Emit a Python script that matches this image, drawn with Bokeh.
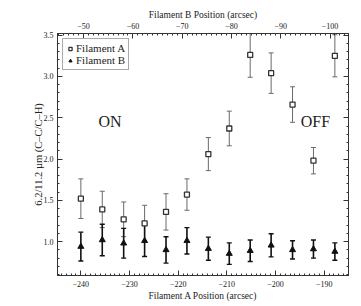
from bokeh.plotting import figure
from bokeh.models import (ColumnDataSource, Range1d, LinearAxis, SingleIntervalTicker,
                          Whisker, TeeHead, Label, Legend, LegendItem, CustomJSTickFormatter,
                          PrintfTickFormatter)
from bokeh.embed import file_html
from bokeh.resources import INLINE

# Filament A position (arcsec) for each slit position
pos_a = [-240.0, -235.6, -231.2, -226.9, -222.5, -218.2, -213.8, -209.5, -205.2, -200.9, -196.5, -192.2, -187.8]
# 6.2/11.2 ratio, Filament A (squares) and its uncertainty
ratio_a = [1.52, 1.39, 1.27, 1.22, 1.36, 1.57, 2.06, 2.37, 3.26, 3.04, 2.66, 1.98, 3.25]
err_a = [0.24, 0.22, 0.21, 0.22, 0.22, 0.19, 0.20, 0.21, 0.27, 0.245, 0.215, 0.16, 0.255]
# 6.2/11.2 ratio, Filament B (triangles) and its uncertainty
ratio_b = [0.94, 1.02, 0.98, 1.01, 0.90, 1.01, 0.915, 0.855, 0.89, 0.955, 0.90, 0.91, 0.88]
err_b = [0.175, 0.19, 0.18, 0.19, 0.16, 0.16, 0.14, 0.13, 0.13, 0.14, 0.11, 0.11, 0.105]

FONT = "Liberation Serif"
INK = "#222222"

src = ColumnDataSource(dict(
    x=pos_a, ya=ratio_a,
    ya_lo=[v - e for v, e in zip(ratio_a, err_a)],
    ya_hi=[v + e for v, e in zip(ratio_a, err_a)],
    yb=ratio_b,
    yb_lo=[v - e for v, e in zip(ratio_b, err_b)],
    yb_hi=[v + e for v, e in zip(ratio_b, err_b)],
))

p = figure(width=361, height=306, output_backend="svg", toolbar_location=None,
           x_range=Range1d(-244.8, -185.0), y_range=Range1d(0.59, 3.52),
           min_border_left=57, min_border_right=13, min_border_top=33, min_border_bottom=31)
p.background_fill_color = "white"
p.border_fill_color = "white"
p.outline_line_color = "#333333"
p.outline_line_width = 1
p.xgrid.visible = False
p.ygrid.visible = False

minus_fmt = CustomJSTickFormatter(code="return tick.toFixed(0).replace('-', '\u2212');")


def style_axis(ax, label_size="8px"):
    ax.major_tick_in = 5
    ax.major_tick_out = 0
    ax.minor_tick_in = 2
    ax.minor_tick_out = 0
    ax.axis_line_color = "#333333"
    ax.major_tick_line_color = "#333333"
    ax.minor_tick_line_color = "#333333"
    ax.major_label_text_font = FONT
    ax.major_label_text_font_size = label_size
    ax.major_label_text_color = INK
    ax.axis_label_text_font = FONT
    ax.axis_label_text_font_style = "normal"
    ax.axis_label_text_color = INK


# bottom axis: Filament A position
xa = p.xaxis[0]
xa.ticker = SingleIntervalTicker(interval=10, num_minor_ticks=10)
xa.formatter = minus_fmt
xa.axis_label = "Filament A Position (arcsec)"
xa.axis_label_text_font_size = "9.5px"
xa.major_label_standoff = 5
xa.axis_label_standoff = 1
style_axis(xa)

# left axis: ratio
ya = p.yaxis[0]
ya.ticker = SingleIntervalTicker(interval=0.5, num_minor_ticks=5)
ya.formatter = PrintfTickFormatter(format="%.1f")
ya.axis_label = "6.2/11.2 \u00b5m (C\u2013C/C\u2013H)"
ya.axis_label_text_font_size = "10.5px"
ya.major_label_standoff = 4
ya.axis_label_standoff = -3
style_axis(ya)

# top axis: Filament B position (reversed)
p.extra_x_ranges = {"B": Range1d(-44.7, -103.75)}
top = LinearAxis(x_range_name="B",
                 ticker=SingleIntervalTicker(interval=10, num_minor_ticks=10),
                 formatter=minus_fmt,
                 axis_label="Filament B Position (arcsec)")
top.axis_label_text_font_size = "9.5px"
top.major_label_standoff = 5
top.axis_label_standoff = 0
style_axis(top)
p.add_layout(top, "above")

# right axis: ticks only
right = LinearAxis(ticker=SingleIntervalTicker(interval=0.5, num_minor_ticks=5),
                   formatter=CustomJSTickFormatter(code="return '';"))
style_axis(right)
right.major_label_standoff = 0
p.add_layout(right, "right")

# error bars
wa = Whisker(source=src, base="x", upper="ya_hi", lower="ya_lo",
             line_color="#6a6a6a", line_width=1,
             upper_head=TeeHead(size=5, line_color="#6a6a6a", line_width=1),
             lower_head=TeeHead(size=5, line_color="#6a6a6a", line_width=1))
wb = Whisker(source=src, base="x", upper="yb_hi", lower="yb_lo",
             line_color="#111111", line_width=1.6,
             upper_head=TeeHead(size=5, line_color="#111111", line_width=1.4),
             lower_head=TeeHead(size=5, line_color="#111111", line_width=1.4))
p.add_layout(wa)
p.add_layout(wb)

ra = p.scatter("x", "ya", source=src, marker="square", size=5,
               fill_color="white", line_color="#333333", line_width=1.3)
rb = p.scatter("x", "yb", source=src, marker="triangle", size=6,
               fill_color="#111111", line_color="#111111", line_width=1)

p.add_layout(Label(x=-234.0, y=2.455, text="ON", text_font=FONT, text_font_size="16px",
                   text_color=INK, text_align="center", text_baseline="middle"))
p.add_layout(Label(x=-191.8, y=2.455, text="OFF", text_font=FONT, text_font_size="16px",
                   text_color=INK, text_align="center", text_baseline="middle"))

legend = Legend(items=[LegendItem(label="Filament A", renderers=[ra]),
                       LegendItem(label="Filament B", renderers=[rb])],
                location="top_left")
legend.label_text_font = FONT
legend.label_text_font_size = "11px"
legend.label_text_color = INK
legend.label_height = 9
legend.label_standoff = 2
legend.glyph_height = 9
legend.glyph_width = 8
legend.spacing = 0
legend.padding = 3
legend.margin = 5
legend.border_line_color = "#555555"
legend.border_line_width = 1
legend.background_fill_alpha = 1
p.add_layout(legend)

open("out.html", "w").write(file_html(p, INLINE))
